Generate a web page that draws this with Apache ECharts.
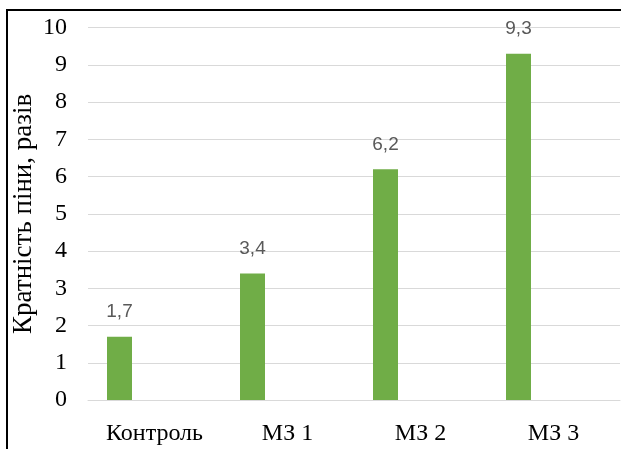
<!DOCTYPE html>
<html>
<head>
<meta charset="utf-8">
<script src="https://cdn.jsdelivr.net/npm/echarts@6/dist/echarts.min.js"></script>
<style>
html,body{margin:0;padding:0;background:#fff;}
#c{width:621px;height:449px;}
</style>
</head>
<body>
<div id="c"></div>
<script>
const categories = ['Контроль', 'МЗ 1', 'МЗ 2', 'МЗ 3'];
const foamValues = [1.7, 3.4, 6.2, 9.3];
const emptySeries = [null, null, null, null];
const yAxisName = 'Кратність піни, разів';

const chart = echarts.init(document.getElementById('c'), null, {renderer: 'canvas'});
chart.setOption({
  animation: false,
  backgroundColor: '#ffffff',
  grid: {left: 88, right: 1, top: 27.7, bottom: 49, containLabel: false, outerBoundsMode: 'none'},
  graphic: [
    {type: 'line', shape: {x1: 6, y1: 10, x2: 621, y2: 10}, style: {stroke: '#000', lineWidth: 2}},
    {type: 'line', shape: {x1: 7, y1: 9, x2: 7, y2: 449}, style: {stroke: '#000', lineWidth: 2}}
  ],
  xAxis: {
    type: 'category',
    data: categories,
    axisLine: {lineStyle: {color: '#d9d9d9', width: 1}},
    axisTick: {show: false},
    axisLabel: {fontFamily: 'Liberation Serif', fontSize: 24, color: '#000', margin: 22}
  },
  yAxis: {
    type: 'value',
    min: 0, max: 10, interval: 1,
    name: yAxisName,
    nameLocation: 'middle',
    nameGap: 51,
    nameMoveOverlap: false,
    nameTextStyle: {fontFamily: 'Liberation Serif', fontSize: 27, color: '#000'},
    axisLine: {show: false},
    axisTick: {show: false},
    splitLine: {lineStyle: {color: '#d9d9d9', width: 1}},
    axisLabel: {fontFamily: 'Liberation Serif', fontSize: 24, color: '#000', margin: 21}
  },
  series: [
    {
      type: 'bar',
      data: foamValues,
      barWidth: 25,
      barGap: '180%',
      itemStyle: {color: '#70ad47'},
      label: {
        show: true, position: 'top', distance: 15,
        fontFamily: 'Liberation Sans', fontSize: 19, color: '#595959',
        formatter: p => String(p.value).replace('.', ',')
      }
    },
    {
      type: 'bar',
      data: emptySeries,
      barWidth: 25,
      barGap: '180%',
      itemStyle: {color: '#ed7d31'}
    }
  ]
});
</script>
</body>
</html>
